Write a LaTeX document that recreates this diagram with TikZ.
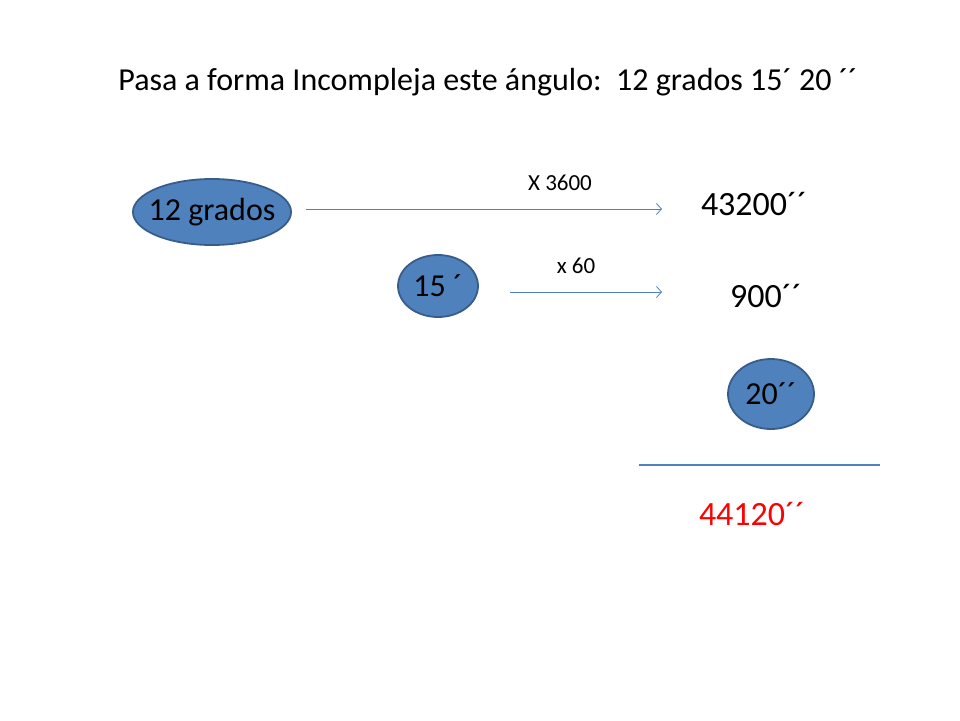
\documentclass[tikz,border=0pt]{standalone}
\usepackage{fontspec}
\setmainfont{Carlito}
\usetikzlibrary{arrows.meta,shapes.geometric}
\definecolor{fillblue}{HTML}{4F81BD}
\definecolor{edgeblue}{HTML}{385D8A}

\begin{document}
\begin{tikzpicture}[x=1pt,y=-1pt,>={Straight Barb[length=5pt,width=11pt]},
  oval/.style={ellipse,fill=fillblue,draw=edgeblue,line width=1.8pt,inner sep=0pt,font=\fontsize{32}{36}\selectfont},
  big/.style={font=\fontsize{34}{38}\selectfont},
  small/.style={font=\fontsize{23}{27}\selectfont},
  conn/.style={->,draw=fillblue,line width=0.8pt}]
  \useasboundingbox (0,0) rectangle (960,720);

  \node[font=\fontsize{32}{36}\selectfont] (title) at (488,82) {Pasa a forma Incompleja este ángulo:\ \ 12 grados 15´ 20 ´´};

  \node[oval,inner xsep=-7.5pt,minimum width=156,minimum height=66] (g12) at (212,212) {12 grados};
  \node[oval,minimum width=80,minimum height=62] (m15) at (438,286) {15 ´};
  \node[oval,minimum width=86,minimum height=70] (s20) at (771,394) {20´´};

  \node[big] (n43200) at (754,204) {43200´´};
  \node[big] (n900) at (766,296) {900´´};
  \node[big,text=red] (total) at (752,514) {44120´´};

  \node[small] (by3600) at (560,183) {X 3600};
  \node[small] (by60) at (576,266) {x 60};

  \coordinate (a1s) at (306,209);
  \coordinate (a1e) at (662,209);
  \coordinate (a2s) at (510,292);
  \coordinate (a2e) at (662,292);
  \coordinate (sumL) at (639,465);
  \coordinate (sumR) at (880,465);

  \draw[conn] (a1s) -- (a1e);
  \draw[conn] (a2s) -- (a2e);
  \draw[fillblue,line width=1.8pt] (sumL) -- (sumR);
\end{tikzpicture}
\end{document}
